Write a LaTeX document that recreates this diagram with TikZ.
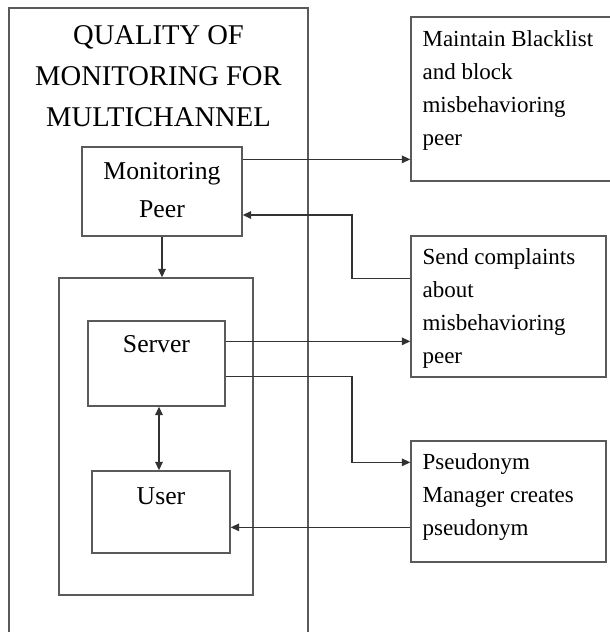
\documentclass[tikz,border=0pt]{standalone}
\usepackage{fontspec}
\setmainfont{Liberation Serif}
\usetikzlibrary{positioning,arrows.meta,calc}
\definecolor{boxgray}{RGB}{90,90,90}
\definecolor{wiregray}{RGB}{50,50,50}

\begin{document}
\begin{tikzpicture}[x=1pt,y=-1pt,
  box/.style={draw=boxgray,line width=1.3pt,inner sep=0pt},
  wire/.style={draw=wiregray,line width=1.35pt},
  arr/.style={wire,-{Triangle[length=8.5pt,width=7.5pt]}},
  dblarr/.style={wire,{Triangle[length=8.5pt,width=7.5pt]}-{Triangle[length=8.5pt,width=7.5pt]}},
  lbl/.style={font=\fontsize{25.7}{38}\selectfont,inner sep=0pt,align=center},
  rtxt/.style={font=\fontsize{23}{33}\selectfont,inner sep=0pt,align=left}]
\useasboundingbox (0,0) rectangle (610,632);
\clip (0,0) rectangle (610,632);
% Outer frame, open at the bottom of the page
\draw[box] (9,8) rectangle (308,660);
\node[font=\fontsize{28.6}{41}\selectfont,inner sep=0pt,align=center,anchor=north] (title)
  at (158.5,25) {QUALITY OF\\MONITORING FOR\\MULTICHANNEL};
% Left column
\node[box,minimum width=160pt,minimum height=89pt] (mp) at (162,191.5) {};
\node[lbl] (mptxt) at ([yshift=1.5pt]mp.center) {Monitoring\\Peer};
\node[box,minimum width=194pt,minimum height=317pt] (cont) at (156,436.5) {};
\node[box,minimum width=137pt,minimum height=85pt] (srv) at (156.5,363.5) {};
\node[lbl,anchor=base] (srvtxt) at ([yshift=-32pt]srv.north) {Server};
\node[box,minimum width=138pt,minimum height=82pt] (usr) at (161,512) {};
\node[lbl,anchor=base] (usrtxt) at ([yshift=-34pt]usr.north) {User};
% Right column
\node[box,minimum width=209pt,minimum height=164pt] (blk) at (515.5,99) {};
\node[rtxt,anchor=north west] (blktxt) at ([xshift=12pt,yshift=-14pt]blk.north west)
  {Maintain Blacklist\\and block\\misbehavioring\\peer};
\node[box,minimum width=195pt,minimum height=141pt] (cmp) at (508.5,306.5) {};
\node[rtxt,anchor=north west] (cmptxt) at ([xshift=12pt,yshift=-13pt]cmp.north west)
  {Send complaints\\about\\misbehavioring\\peer};
\node[box,minimum width=195pt,minimum height=121pt] (psd) at (508.5,501.5) {};
\node[rtxt,anchor=north west] (psdtxt) at ([xshift=12pt,yshift=-13pt]psd.north west)
  {Pseudonym\\Manager creates\\pseudonym};
% Connectors
\coordinate (jog) at (352,0);
\coordinate (mpOut) at ([yshift=-13pt]mp.north east);
\coordinate (mpIn) at (mp.east |- 0,215);
\coordinate (cmpOut) at ([yshift=-43pt]cmp.north west);
\coordinate (srvOutA) at ([yshift=-21pt]srv.north east);
\coordinate (srvOutB) at ([yshift=-56pt]srv.north east);
\coordinate (psdIn) at ([yshift=-22pt]psd.north west);
\coordinate (psdOut) at ([yshift=-87pt]psd.north west);
\coordinate (link) at (159,0);
\draw[arr] (mpOut) -- (mpOut -| blk.west);
\draw[arr] (cmpOut) -- (cmpOut -| jog) -- (jog |- mpIn) -- (mpIn);
\draw[arr] (mp.south) -- (mp.south |- cont.north);
\draw[arr] (srvOutA) -- (srvOutA -| cmp.west);
\draw[arr] (srvOutB) -- (srvOutB -| jog) -- (jog |- psdIn) -- (psdIn);
\draw[arr] (psdOut) -- (psdOut -| usr.east);
\draw[dblarr] (link |- srv.south) -- (link |- usr.north);
\end{tikzpicture}
\end{document}
